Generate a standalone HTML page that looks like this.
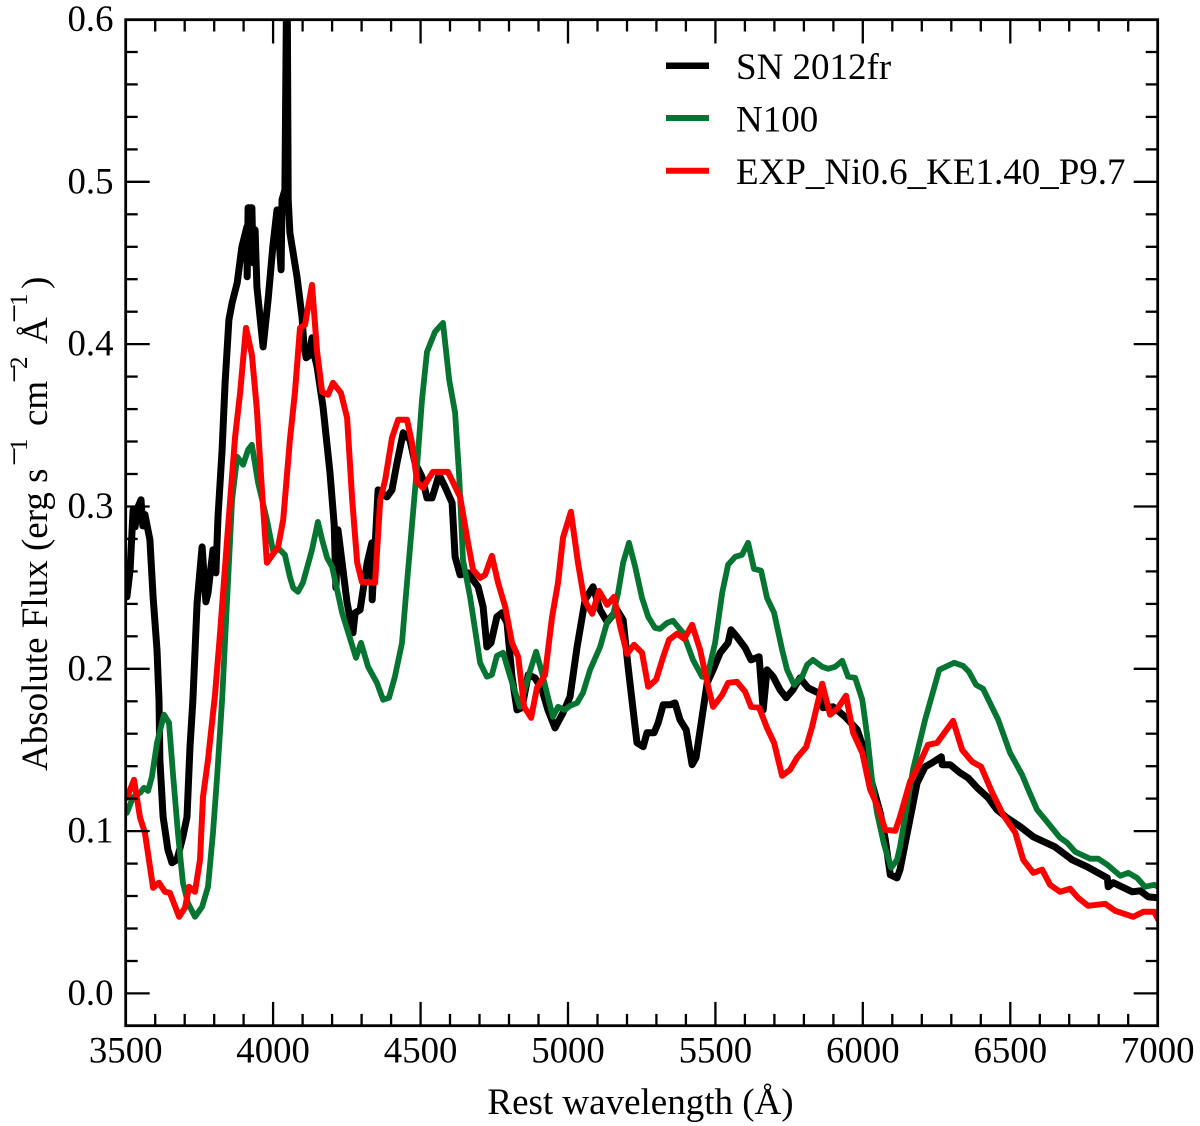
<!DOCTYPE html>
<html lang="en">
<head>
<meta charset="utf-8">
<title>Absolute flux spectra</title>
<style>
html,body{margin:0;padding:0;background:#fff;}
svg{display:block;}
text{font-family:"Liberation Serif",serif;fill:#000;}
</style>
</head>
<body>
<svg id="chart" width="1200" height="1126" viewBox="0 0 1200 1126" xmlns="http://www.w3.org/2000/svg">
  <defs><clipPath id="plot-clip"><rect x="125.7" y="19.5" width="1032" height="1006.4"/></clipPath></defs>
  <g id="series-layer" clip-path="url(#plot-clip)"></g>
  <g id="tick-layer"></g>
  <rect x="125.7" y="19.7" width="1032" height="1006" fill="none" stroke="#000" stroke-width="2.8"/>
  <g id="label-layer" font-size="36.8"></g>

  <text x="640.5" y="1114" font-size="37" text-anchor="middle">Rest wavelength (Å)</text>

  <g font-size="37">
    <text transform="translate(47,771) rotate(-90)">Absolute Flux (erg s</text>
    <text transform="translate(25.5,466) rotate(-90)" font-size="34">−</text>
    <text transform="translate(27,451) rotate(-90)" font-size="25">1</text>
    <text transform="translate(47,426) rotate(-90)">cm</text>
    <text transform="translate(25.5,383) rotate(-90)" font-size="34">−</text>
    <text transform="translate(27,369) rotate(-90)" font-size="25">2</text>
    <text transform="translate(47,344) rotate(-90)">Å</text>
    <text transform="translate(25.5,323) rotate(-90)" font-size="34">−</text>
    <text transform="translate(27,306) rotate(-90)" font-size="25">1</text>
    <text transform="translate(47,289) rotate(-90)">)</text>
  </g>

  <g font-size="37">
    <line x1="666" x2="709" y1="65.7" y2="65.7" stroke="#000" stroke-width="6.5"/>
    <text x="736" y="79">SN 2012fr</text>
    <line x1="666" x2="709" y1="118" y2="118" stroke="#067531" stroke-width="6"/>
    <text x="736" y="131.5">N100</text>
    <line x1="666" x2="709" y1="170.7" y2="170.7" stroke="#ff0000" stroke-width="6"/>
    <text x="736" y="184">EXP_Ni0.6_KE1.40_P9.7</text>
  </g>
</svg>
<script>
const xTickLabels = ["3500","4000","4500","5000","5500","6000","6500","7000"];
const yTickLabels = ["0.0","0.1","0.2","0.3","0.4","0.5","0.6"];

const snWave = [3504,3515,3525,3532,3540,3552,3558,3565,3582,3593,3606,3613,3616,3627,3643,3657,3674,3694,3708,3718,3728,3742,3759,3772,3779,3796,3806,3813,3827,3837,3844,3850,3861,3878,3894,3911,3912,3915,3928,3932,3939,3945,3966,3983,3999,4013,4027,4030,4040,4047,4051,4057,4081,4098,4105,4112,4122,4132,4142,4149,4169,4193,4207,4213,4220,4251,4271,4278,4295,4319,4335,4336,4356,4386,4403,4420,4441,4464,4481,4505,4522,4539,4563,4583,4607,4617,4634,4661,4695,4712,4725,4739,4759,4776,4793,4810,4827,4844,4865,4888,4912,4932,4956,4983,5007,5031,5058,5085,5109,5133,5166,5187,5204,5221,5234,5255,5268,5292,5306,5323,5346,5363,5380,5401,5421,5434,5455,5472,5492,5516,5543,5553,5573,5601,5621,5648,5662,5675,5696,5719,5740,5763,5787,5814,5862,5865,5899,5940,5981,6001,6025,6059,6076,6093,6116,6126,6184,6211,6235,6266,6269,6296,6330,6357,6388,6425,6455,6489,6534,6578,6652,6710,6761,6829,6832,6849,6914,6941,6968,7002];
const snFlux = [.2443,.2610,.2979,.2875,.2990,.3041,.2880,.2950,.2795,.2443,.2117,.1809,.1439,.1088,.0885,.0805,.0823,.0965,.1088,.1519,.1809,.2406,.2751,.2413,.2468,.2733,.2591,.2936,.3349,.3762,.3965,.4150,.4254,.4378,.4599,.4723,.4415,.4840,.4840,.4501,.4704,.4353,.3983,.4273,.4599,.4827,.4458,.4889,.4951,.65,.4889,.4686,.4415,.4168,.3983,.3916,.3928,.4039,.3916,.3860,.3614,.3207,.2887,.2499,.2856,.2406,.2222,.2345,.2363,.2653,.2776,.2425,.3102,.3059,.3102,.3269,.3454,.3411,.3269,.3183,.3053,.3053,.3195,.3121,.3022,.2690,.2579,.2591,.2505,.2382,.2135,.2160,.2320,.2345,.2283,.1951,.1747,.1760,.1963,.1944,.1871,.1747,.1636,.1729,.1827,.2135,.2425,.2505,.2363,.2289,.2363,.2302,.2012,.1747,.1544,.1520,.1606,.1606,.1667,.1778,.1778,.1790,.1686,.1624,.1409,.1452,.1704,.1914,.1994,.2098,.2160,.2240,.2197,.2129,.2055,.2074,.1747,.1994,.1951,.1871,.1821,.1871,.1944,.1883,.1840,.1760,.1766,.1704,.1624,.1519,.1335,.1113,.0947,.0731,.0712,.0762,.1297,.1396,.1421,.1458,.1409,.1409,.1359,.1328,.1267,.1205,.1131,.1082,.1027,.0965,.0903,.0823,.0780,.0712,.0657,.0682,.0626,.0632,.0595,.0589];

const n100Wave = [3504,3525,3549,3562,3576,3589,3606,3630,3647,3660,3677,3694,3711,3735,3759,3779,3796,3810,3827,3844,3861,3878,3898,3915,3928,3949,3979,3999,4023,4040,4057,4068,4084,4101,4132,4152,4166,4183,4200,4234,4281,4298,4322,4352,4373,4393,4413,4437,4454,4488,4505,4522,4549,4576,4597,4617,4631,4644,4668,4702,4725,4742,4759,4780,4804,4837,4865,4892,4912,4932,4949,4966,4990,5007,5031,5051,5075,5109,5133,5153,5170,5187,5207,5228,5251,5272,5295,5312,5336,5356,5390,5424,5455,5472,5499,5523,5543,5567,5590,5611,5631,5655,5675,5699,5726,5743,5767,5794,5811,5831,5862,5882,5906,5930,5950,5974,5998,6015,6031,6048,6072,6096,6116,6126,6170,6211,6259,6310,6340,6360,6384,6408,6459,6499,6540,6561,6591,6625,6669,6693,6720,6771,6798,6829,6873,6900,6930,6957,6988,7002];
const n100Flux = [.1113,.1211,.1236,.1267,.1248,.1335,.1544,.1717,.1667,.1359,.0990,.0682,.0558,.0472,.0534,.0657,.0990,.1335,.1809,.2425,.3041,.3306,.3257,.3349,.3380,.3146,.2918,.2733,.2733,.2702,.2567,.2499,.2474,.2530,.2733,.2905,.2795,.2684,.2628,.2345,.2068,.2160,.2012,.1914,.1809,.1821,.1951,.2160,.2530,.3244,.3657,.3953,.4076,.4131,.3780,.3577,.3183,.2671,.2443,.2037,.1951,.1963,.2080,.2099,.1951,.1766,.1951,.2105,.1975,.1827,.1704,.1766,.1747,.1772,.1790,.1852,.1994,.2135,.2289,.2333,.2468,.2653,.2776,.2628,.2437,.2320,.2252,.2246,.2283,.2296,.2222,.2055,.1951,.1951,.2160,.2468,.2641,.2690,.2702,.2776,.2616,.2604,.2437,.2345,.2117,.1994,.1901,.1951,.2025,.2055,.2012,.2000,.2012,.2049,.1951,.1944,.1809,.1581,.1316,.1113,.0916,.0774,.0823,.0903,.1378,.1686,.1994,.2037,.2018,.1981,.1901,.1877,.1686,.1483,.1347,.1255,.1131,.1057,.0959,.0928,.0873,.0830,.0830,.0793,.0725,.0743,.0712,.0657,.0669,.0657];

const expWave = [3504,3528,3549,3565,3593,3613,3633,3650,3681,3701,3715,3735,3752,3762,3779,3803,3820,3844,3871,3888,3908,3928,3945,3962,3979,4017,4034,4057,4074,4091,4108,4132,4149,4166,4186,4203,4230,4251,4268,4285,4301,4346,4363,4380,4403,4424,4454,4471,4488,4508,4542,4573,4593,4634,4661,4678,4702,4719,4742,4763,4787,4810,4831,4851,4875,4895,4922,4946,4966,4983,5010,5034,5055,5082,5105,5133,5156,5177,5200,5224,5251,5272,5299,5323,5343,5370,5394,5421,5448,5472,5492,5523,5543,5573,5601,5621,5648,5675,5699,5726,5753,5777,5808,5828,5862,5889,5916,5943,5967,5998,6025,6048,6076,6110,6126,6160,6187,6221,6252,6306,6337,6371,6401,6439,6476,6517,6544,6578,6608,6635,6669,6703,6730,6764,6822,6856,6917,6951,6988,7002];
const expFlux = [.1205,.1316,.1082,.0990,.0651,.0682,.0626,.0620,.0472,.0528,.0657,.0626,.0823,.1211,.1439,.1840,.2222,.2795,.3429,.3700,.4100,.3934,.3595,.3103,.2653,.2751,.2918,.3410,.3700,.4100,.4119,.4365,.3953,.3706,.3688,.3762,.3700,.3546,.3041,.2653,.2536,.2530,.3041,.3164,.3423,.3534,.3534,.3392,.3152,.3115,.3213,.3213,.3213,.3059,.2776,.2610,.2560,.2579,.2696,.2530,.2382,.2160,.2074,.1766,.1698,.1883,.1963,.2320,.2530,.2807,.2967,.2653,.2425,.2339,.2480,.2394,.2443,.2259,.2092,.2148,.2099,.1889,.1932,.2074,.2179,.2216,.2185,.2271,.2117,.1914,.1766,.1840,.1914,.1920,.1858,.1766,.1760,.1636,.1544,.1341,.1378,.1452,.1519,.1643,.1908,.1717,.1760,.1834,.1606,.1482,.1255,.1162,.1008,.1002,.1088,.1304,.1396,.1532,.1544,.1679,.1500,.1427,.1396,.1236,.1100,.0990,.0823,.0743,.0762,.0669,.0626,.0645,.0589,.0540,.0552,.0509,.0472,.0503,.0503,.0454];

const xMin = 3500, xMax = 7000, yMin = -0.02, yMax = 0.6;
const plotLeft = 125.7, plotRight = 1157.7, plotTop = 19.5, plotBottom = 1025.9;
const NS = "http://www.w3.org/2000/svg";

function xScale(w){ return plotLeft + (w - xMin) / (xMax - xMin) * (plotRight - plotLeft); }
function yScale(f){ return plotBottom - (f - yMin) / (yMax - yMin) * (plotBottom - plotTop); }

const seriesLayer = document.getElementById('series-layer');
const tickLayer = document.getElementById('tick-layer');
const labelLayer = document.getElementById('label-layer');

function drawSeries(waves, fluxes, color, width, name){
  const line = document.createElementNS(NS, 'polyline');
  
  
  line.setAttribute('points', waves.map(function(w, i){ return xScale(w).toFixed(1) + ',' + yScale(fluxes[i]).toFixed(1); }).join(' '));
  line.setAttribute('fill', 'none');
  line.setAttribute('stroke', color);
  line.setAttribute('stroke-width', width);
  line.setAttribute('stroke-linejoin', 'round');
  line.setAttribute('stroke-linecap', 'round');
  seriesLayer.appendChild(line);
}
drawSeries(snWave, snFlux, '#000000', 7, 'series-sn-2012fr');
drawSeries(n100Wave, n100Flux, '#067531', 5.8, 'series-n100');
drawSeries(expWave, expFlux, '#ff0000', 6, 'series-exp-ni06-ke140-p97');

function addTick(x1, y1, x2, y2){
  const t = document.createElementNS(NS, 'line');
  
  
  t.setAttribute('x1', x1.toFixed(1));
  t.setAttribute('y1', y1.toFixed(1));
  t.setAttribute('x2', x2.toFixed(1));
  t.setAttribute('y2', y2.toFixed(1));
  t.setAttribute('stroke', '#000');
  t.setAttribute('stroke-width', '2.3');
  tickLayer.appendChild(t);
}
for (let w = xMin + 100; w < xMax; w += 100){
  const len = (w % 500 === 0) ? 24 : 12;
  const x = xScale(w);
  addTick(x, plotBottom, x, plotBottom - len);
  addTick(x, plotTop, x, plotTop + len);
}
for (let k = 0; k < 30; k++){
  const f = k * 0.02;
  const len = (k % 5 === 0) ? 24 : 12;
  const y = yScale(f);
  addTick(plotLeft, y, plotLeft + len, y);
  addTick(plotRight, y, plotRight - len, y);
}

xTickLabels.forEach(function(label){
  const t = document.createElementNS(NS, 'text');
  
  
  t.setAttribute('x', xScale(parseFloat(label)).toFixed(1));
  t.setAttribute('y', '1062.5');
  t.setAttribute('text-anchor', 'middle');
  t.textContent = label;
  labelLayer.appendChild(t);
});
yTickLabels.forEach(function(label){
  const t = document.createElementNS(NS, 'text');
  
  
  t.setAttribute('x', '113.5');
  t.setAttribute('y', (yScale(parseFloat(label)) + 11.5).toFixed(1));
  t.setAttribute('text-anchor', 'end');
  t.textContent = label;
  labelLayer.appendChild(t);
});
</script>
</body>
</html>
